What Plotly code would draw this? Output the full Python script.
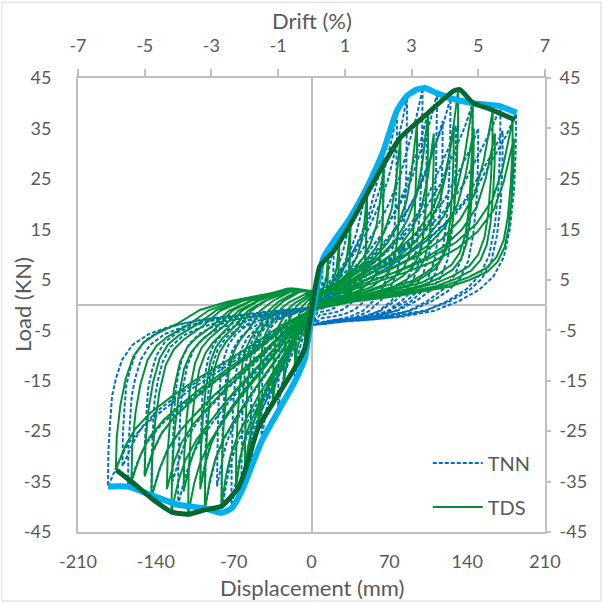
import plotly.graph_objects as go

# ---------------- data ----------------
# Axis ticks
disp_ticks = [-210, -140, -70, 0, 70, 140, 210]
drift_ticks = [-7, -5, -3, -1, 1, 3, 5, 7]
load_ticks = [-45, -35, -25, -15, -5, 5, 15, 25, 35, 45]

# TDS cycle peaks (displacement mm, load kN)
tds_pos_disp = [7.5, 15, 25, 35, 50, 65, 80, 95, 105, 110, 132, 128, 145, 146, 163, 165, 181, 182]
tds_pos_load = [7.6, 9.8, 12.5, 16.0, 22.0, 27.8, 33.1, 36.2, 38.1, 34.0, 42.7, 36.0, 40.0, 35.0, 38.5, 34.0, 36.7, 33.0]
tds_neg_disp = [-6, -15, -25, -35, -48, -60, -68, -81, -96, -100, -111, -115, -126, -130, -144, -150, -162, -176]
tds_neg_load = [-8.6, -12.5, -16.0, -19.5, -24.4, -33.0, -36.5, -39.9, -40.6, -36.5, -41.5, -37.0, -41.0, -36.5, -38.3, -34.0, -35.0, -32.7]

# TNN cycle peaks (displacement mm, load kN)
tnn_pos_disp = [10, 20, 35, 50, 65, 77, 86, 100, 104, 113, 118, 125, 130, 145, 150, 170, 172, 184]
tnn_pos_load = [9.3, 12.5, 17.2, 23.2, 30.5, 38.4, 41.4, 43.0, 37.5, 42.0, 36.5, 41.0, 35.5, 40.0, 35.0, 39.4, 34.5, 38.0]
tnn_neg_disp = [-6, -15, -30, -45, -55, -63, -72, -81, -85, -96, -100, -120, -125, -144, -150, -165, -170, -183]
tnn_neg_load = [-10.6, -15.2, -21.1, -27.1, -32.0, -37.0, -40.3, -41.2, -36.0, -40.3, -35.5, -39.6, -35.0, -37.7, -33.5, -36.0, -32.0, -36.0]

# Branch shapes of one half-cycle, as fractions of that half-cycle's peak
tds_pos_reload_d = [0.15, 0.30, 0.45, 0.60, 0.72, 0.82, 0.90, 0.95]
tds_pos_reload_f = [0.07, 0.13, 0.19, 0.26, 0.34, 0.44, 0.57, 0.74]
tds_pos_unload_d = [0.998, 0.99, 0.975, 0.955, 0.92, 0.87, 0.78, 0.68, 0.54, 0.40, 0.20]
tds_pos_unload_f = [0.82, 0.65, 0.47, 0.35, 0.26, 0.20, 0.15, 0.11, 0.08, 0.05, 0.02]
tds_neg_reload_d = [0.15, 0.30, 0.45, 0.60, 0.72, 0.82, 0.90, 0.95]
tds_neg_reload_f = [0.12, 0.24, 0.35, 0.46, 0.56, 0.65, 0.75, 0.85]
tds_neg_unload_d = [0.995, 0.977, 0.95, 0.91, 0.86, 0.80, 0.68, 0.57, 0.43, 0.30, 0.17]
tds_neg_unload_f = [0.80, 0.61, 0.45, 0.31, 0.23, 0.18, 0.11, 0.03, -0.02, -0.05, -0.08]
tds_zero_after_pos = -1.0
tds_zero_after_neg = 2.8

tnn_pos_reload_d = [0.15, 0.30, 0.45, 0.58, 0.70, 0.80, 0.88, 0.95]
tnn_pos_reload_f = [0.07, 0.15, 0.25, 0.35, 0.47, 0.60, 0.75, 0.88]
tnn_pos_unload_d = [0.998, 0.99, 0.97, 0.94, 0.89, 0.82, 0.72, 0.60, 0.45, 0.30, 0.15]
tnn_pos_unload_f = [0.80, 0.60, 0.40, 0.25, 0.15, 0.08, 0.02, -0.03, -0.06, -0.075, -0.085]
tnn_neg_reload_d = [0.15, 0.30, 0.45, 0.60, 0.72, 0.82, 0.90, 0.95]
tnn_neg_reload_f = [0.13, 0.25, 0.36, 0.47, 0.57, 0.66, 0.76, 0.87]
tnn_neg_unload_d = [0.998, 0.99, 0.98, 0.96, 0.93, 0.88, 0.80, 0.70, 0.58, 0.45, 0.30, 0.15]
tnn_neg_unload_f = [0.80, 0.65, 0.50, 0.40, 0.30, 0.22, 0.16, 0.12, 0.09, 0.07, 0.05, 0.03]
tnn_zero_after_pos = -4.0
tnn_zero_after_neg = -0.5

# Backbone (envelope) curves
tds_env_disp = [-175.5, -162, -144, -126, -111, -96, -81, -66, -60, -48, -30, -15, -6, 0,
                7.6, 19.6, 34.6, 49.6, 64.6, 79.6, 105, 127.5, 133.5, 145.5, 157.5, 183]
tds_env_load = [-32.7, -35.0, -38.3, -41.0, -41.5, -40.6, -39.9, -36.3, -33.0, -24.4, -17.8, -12.5, -8.6, -1.0,
                7.7, 10.6, 15.9, 21.9, 27.8, 33.1, 38.1, 42.4, 42.7, 40.0, 39.1, 36.7]
tnn_env_disp = [-183, -165, -144, -120, -96, -81, -72, -63, -45, -30, -15, -6, 0,
                10.6, 34.6, 49.6, 64.6, 76.6, 85.6, 94.6, 102, 112.6, 124.5, 145.5, 169.5, 184.5]
tnn_env_load = [-36.0, -36.0, -37.7, -39.6, -40.3, -41.2, -40.3, -37.0, -27.1, -21.1, -15.2, -10.6, -2.5,
                9.3, 17.2, 23.2, 30.5, 38.4, 41.4, 42.7, 43.0, 42.0, 41.0, 40.0, 39.4, 38.1]


def hysteresis(pos_d, pos_f, neg_d, neg_f, pr, pu, nr, nu, z_pos, z_neg):
    """Chain the half-cycles into one continuous load-displacement path."""
    xs, ys = [0.0], [0.0]
    for dp, fp, dn, fn in zip(pos_d, pos_f, neg_d, neg_f):
        xs += [a * dp for a in pr[0]]; ys += [b * fp for b in pr[1]]
        xs.append(dp); ys.append(fp)
        xs += [a * dp for a in pu[0]]; ys += [b * fp for b in pu[1]]
        xs.append(0.0); ys.append(z_pos)
        xs += [a * dn for a in nr[0]]; ys += [b * fn for b in nr[1]]
        xs.append(dn); ys.append(fn)
        xs += [a * dn for a in nu[0]]; ys += [b * fn for b in nu[1]]
        xs.append(0.0); ys.append(z_neg)
    return xs, ys


tds_x, tds_y = hysteresis(tds_pos_disp, tds_pos_load, tds_neg_disp, tds_neg_load,
                          (tds_pos_reload_d, tds_pos_reload_f), (tds_pos_unload_d, tds_pos_unload_f),
                          (tds_neg_reload_d, tds_neg_reload_f), (tds_neg_unload_d, tds_neg_unload_f),
                          tds_zero_after_pos, tds_zero_after_neg)
tnn_x, tnn_y = hysteresis(tnn_pos_disp, tnn_pos_load, tnn_neg_disp, tnn_neg_load,
                          (tnn_pos_reload_d, tnn_pos_reload_f), (tnn_pos_unload_d, tnn_pos_unload_f),
                          (tnn_neg_reload_d, tnn_neg_reload_f), (tnn_neg_unload_d, tnn_neg_unload_f),
                          tnn_zero_after_pos, tnn_zero_after_neg)

# ---------------- figure ----------------
GRID = "#bfbfbf"
TEXT = "#595959"
FONT = "Lato"

fig = go.Figure()
fig.add_trace(go.Scatter(x=tnn_x, y=tnn_y, mode="lines", name="TNN", legendgroup="tnn",
                         line=dict(color="#0070c0", width=2, dash="4px,2px"), hoverinfo="skip"))
fig.add_trace(go.Scatter(x=tds_x, y=tds_y, mode="lines", name="TDS", legendgroup="tds",
                         line=dict(color="#00913c", width=2), hoverinfo="skip"))
fig.add_trace(go.Scatter(x=tnn_env_disp, y=tnn_env_load, mode="lines", showlegend=False,
                         line=dict(color="#00b0f0", width=6, shape="spline", smoothing=0.5), hoverinfo="skip"))
fig.add_trace(go.Scatter(x=tds_env_disp, y=tds_env_load, mode="lines", showlegend=False,
                         line=dict(color="#006830", width=5, shape="spline", smoothing=0.5), hoverinfo="skip"))
# carriers for the drift (top) and right-hand load axes
fig.add_trace(go.Scatter(x=[drift_ticks[0], drift_ticks[-1]], y=[0, 0], xaxis="x2", yaxis="y",
                         mode="lines", line=dict(width=0), opacity=0, showlegend=False, hoverinfo="skip"))
fig.add_trace(go.Scatter(x=[0, 0], y=[load_ticks[0], load_ticks[-1]], xaxis="x", yaxis="y2",
                         mode="lines", line=dict(width=0), opacity=0, showlegend=False, hoverinfo="skip"))

axis_common = dict(showgrid=False, showline=True, linecolor=GRID, linewidth=2,
                   tickfont=dict(family=FONT, size=18, color=TEXT))


def labels(vals):
    return [str(v) for v in vals]


fig.update_layout(
    width=603, height=603,
    margin=dict(l=78, r=58, t=78, b=71),
    paper_bgcolor="white", plot_bgcolor="white",
    font=dict(family=FONT, size=18, color=TEXT),
    xaxis=dict(range=[-210, 210], tickvals=disp_ticks, ticktext=labels(disp_ticks), ticks="",
               zeroline=True, zerolinecolor=GRID, zerolinewidth=2, ticklabelstandoff=12, **axis_common),
    yaxis=dict(range=[-45, 45], tickvals=load_ticks, ticktext=labels(load_ticks), ticks="",
               zeroline=True, zerolinecolor=GRID, zerolinewidth=2, ticklabelstandoff=21, **axis_common),
    xaxis2=dict(range=[-7, 7], tickvals=drift_ticks, ticktext=labels(drift_ticks), overlaying="x",
                side="top", anchor="y", ticks="outside", ticklen=7, tickcolor=GRID, tickwidth=2,
                zeroline=False, ticklabelstandoff=10, **axis_common),
    yaxis2=dict(range=[-45, 45], tickvals=load_ticks, ticktext=labels(load_ticks), overlaying="y",
                side="right", anchor="x", ticks="outside", ticklen=4, tickcolor=GRID, tickwidth=2,
                zeroline=False, ticklabelstandoff=5, **axis_common),
    legend=dict(x=0.749, y=0.195, xanchor="left", yanchor="top", bgcolor="rgba(0,0,0,0)",
                font=dict(family=FONT, size=20, color=TEXT), tracegroupgap=15,
                traceorder="grouped", itemwidth=50),
    annotations=[
        dict(text="Drift (%)", x=0.5, y=1, xref="paper", yref="paper", yshift=58,
             xanchor="center", yanchor="middle",
             showarrow=False, font=dict(family=FONT, size=22, color=TEXT)),
        dict(text="Displacement (mm)", x=0.5, y=0, xref="paper", yref="paper", yshift=-55,
             xanchor="center", yanchor="middle",
             showarrow=False, font=dict(family=FONT, size=22, color=TEXT)),
        dict(text="Load (KN)", x=0, y=0.5, xref="paper", yref="paper", xshift=-56, textangle=-90,
             xanchor="center", yanchor="middle",
             showarrow=False, font=dict(family=FONT, size=22, color=TEXT)),
    ],
    shapes=[dict(type="rect", xref="paper", yref="paper", x0=-0.163, x1=1.12, y0=-0.152, y1=1.167,
                 line=dict(color="#d9d9d9", width=1))],
)

fig.write_html("out.html")
